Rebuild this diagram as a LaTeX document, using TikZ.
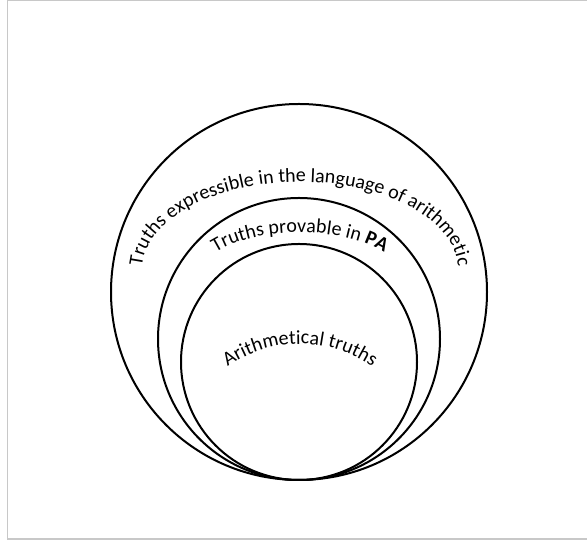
\documentclass[tikz,border=0pt]{standalone}
\usepackage{fontspec}
\setmainfont{Carlito}
\usetikzlibrary{decorations.text}
\definecolor{framegray}{RGB}{200,200,200}
\tikzset{
  ring/.style={draw=black, line width=2pt},
  arctext/.style={decorate, decoration={text along path, text align=center, text={#1}}}
}
\begin{document}
\begin{tikzpicture}[x=1pt,y=1pt]
\fontsize{20}{24}\selectfont
\useasboundingbox (0,0) rectangle (587,540);
\draw[framegray, line width=1.2pt] (590,539.3) -- (7.3,539.3) -- (7.3,1) -- (590,1);
% circles, all tangent at the bottom
\coordinate (O1) at (299,248);
\coordinate (O2) at (299,201);
\coordinate (O3) at (299,178);
\draw[ring] (O1) circle (188pt);
\draw[ring] (O2) circle (141pt);
\draw[ring] (O3) circle (118pt);
% centres of the arched texts
\coordinate (T1) at (300,270);
\coordinate (T2) at (300,257.5);
\coordinate (T3) at (300,69);
\path[arctext={Truths expressible in the language of arithmetic}]
  (T1) ++(180:158pt and 88pt) arc [start angle=180, end angle=0, x radius=158pt, y radius=88pt];
\path[arctext={Truths provable in |\bfseries|PA}]
  (T2) ++(180:105pt and 50pt) arc [start angle=180, end angle=0, x radius=105pt, y radius=50pt];
\path[arctext={Arithmetical truths}]
  (T3) ++(150:127pt) arc [start angle=150, end angle=30, radius=127pt];
\end{tikzpicture}
\end{document}
